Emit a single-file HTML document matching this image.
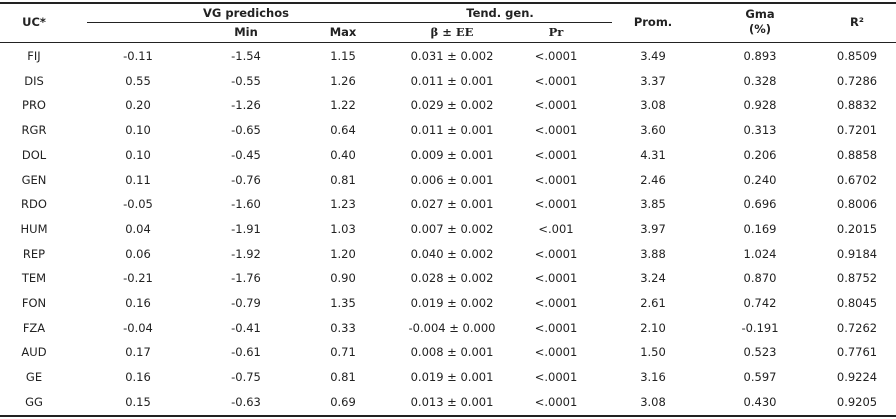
<!DOCTYPE html>
<html><head><meta charset="utf-8"><style>
body{margin:0;width:896px;height:419px;background:#fff;position:relative;font-family:"DejaVu Sans","Liberation Sans",sans-serif;font-size:11.5px;color:#222;overflow:hidden}
.l{position:absolute;background:#222;height:1px}
.t{position:absolute;transform:translate(-50%,-50%);white-space:nowrap}
.h{font-weight:bold}
</style></head><body>
<div class="l" style="left:0;top:2px;width:896px;height:1.5px"></div>
<div class="l" style="left:87px;top:22px;width:525px"></div>
<div class="l" style="left:0;top:42px;width:896px"></div>
<div class="l" style="left:0;top:415px;width:896px;height:1.5px"></div>
<div class="t h" style="left:34px;top:22px">UC*</div>
<div class="t h" style="left:246px;top:13px">VG predichos</div>
<div class="t h" style="left:500px;top:13px">Tend. gen.</div>
<div class="t h" style="left:246px;top:32px">Min</div>
<div class="t h" style="left:343px;top:32px">Max</div>
<div class="t h" style="left:452px;top:32px;font-family:'DejaVu Serif',serif">β ± EE</div>
<div class="t h" style="left:556px;top:32px;font-family:'DejaVu Serif',serif">Pr</div>
<div class="t h" style="left:653px;top:22px">Prom.</div>
<div class="t h" style="left:760px;top:22px;line-height:15px;text-align:center">Gma<br>(%)</div>
<div class="t h" style="left:857px;top:22px">R²</div>
<div id="rows"></div>
<script>
var d=[["FIJ","-0.11","-1.54","1.15","0.031 ± 0.002","<.0001","3.49","0.893","0.8509"],
["DIS","0.55","-0.55","1.26","0.011 ± 0.001","<.0001","3.37","0.328","0.7286"],
["PRO","0.20","-1.26","1.22","0.029 ± 0.002","<.0001","3.08","0.928","0.8832"],
["RGR","0.10","-0.65","0.64","0.011 ± 0.001","<.0001","3.60","0.313","0.7201"],
["DOL","0.10","-0.45","0.40","0.009 ± 0.001","<.0001","4.31","0.206","0.8858"],
["GEN","0.11","-0.76","0.81","0.006 ± 0.001","<.0001","2.46","0.240","0.6702"],
["RDO","-0.05","-1.60","1.23","0.027 ± 0.001","<.0001","3.85","0.696","0.8006"],
["HUM","0.04","-1.91","1.03","0.007 ± 0.002","<.001","3.97","0.169","0.2015"],
["REP","0.06","-1.92","1.20","0.040 ± 0.002","<.0001","3.88","1.024","0.9184"],
["TEM","-0.21","-1.76","0.90","0.028 ± 0.002","<.0001","3.24","0.870","0.8752"],
["FON","0.16","-0.79","1.35","0.019 ± 0.002","<.0001","2.61","0.742","0.8045"],
["FZA","-0.04","-0.41","0.33","-0.004 ± 0.000","<.0001","2.10","-0.191","0.7262"],
["AUD","0.17","-0.61","0.71","0.008 ± 0.001","<.0001","1.50","0.523","0.7761"],
["GE","0.16","-0.75","0.81","0.019 ± 0.001","<.0001","3.16","0.597","0.9224"],
["GG","0.15","-0.63","0.69","0.013 ± 0.001","<.0001","3.08","0.430","0.9205"]];
var x=[34,138,246,343,452,556,653,760,857],h="";
d.forEach(function(r,i){var y=56+i*24.7;r.forEach(function(c,j){h+='<div class="t" style="left:'+x[j]+'px;top:'+y+'px">'+c.replace("<","&lt;")+'</div>';});});
document.getElementById("rows").innerHTML=h;
</script>
</body></html>
